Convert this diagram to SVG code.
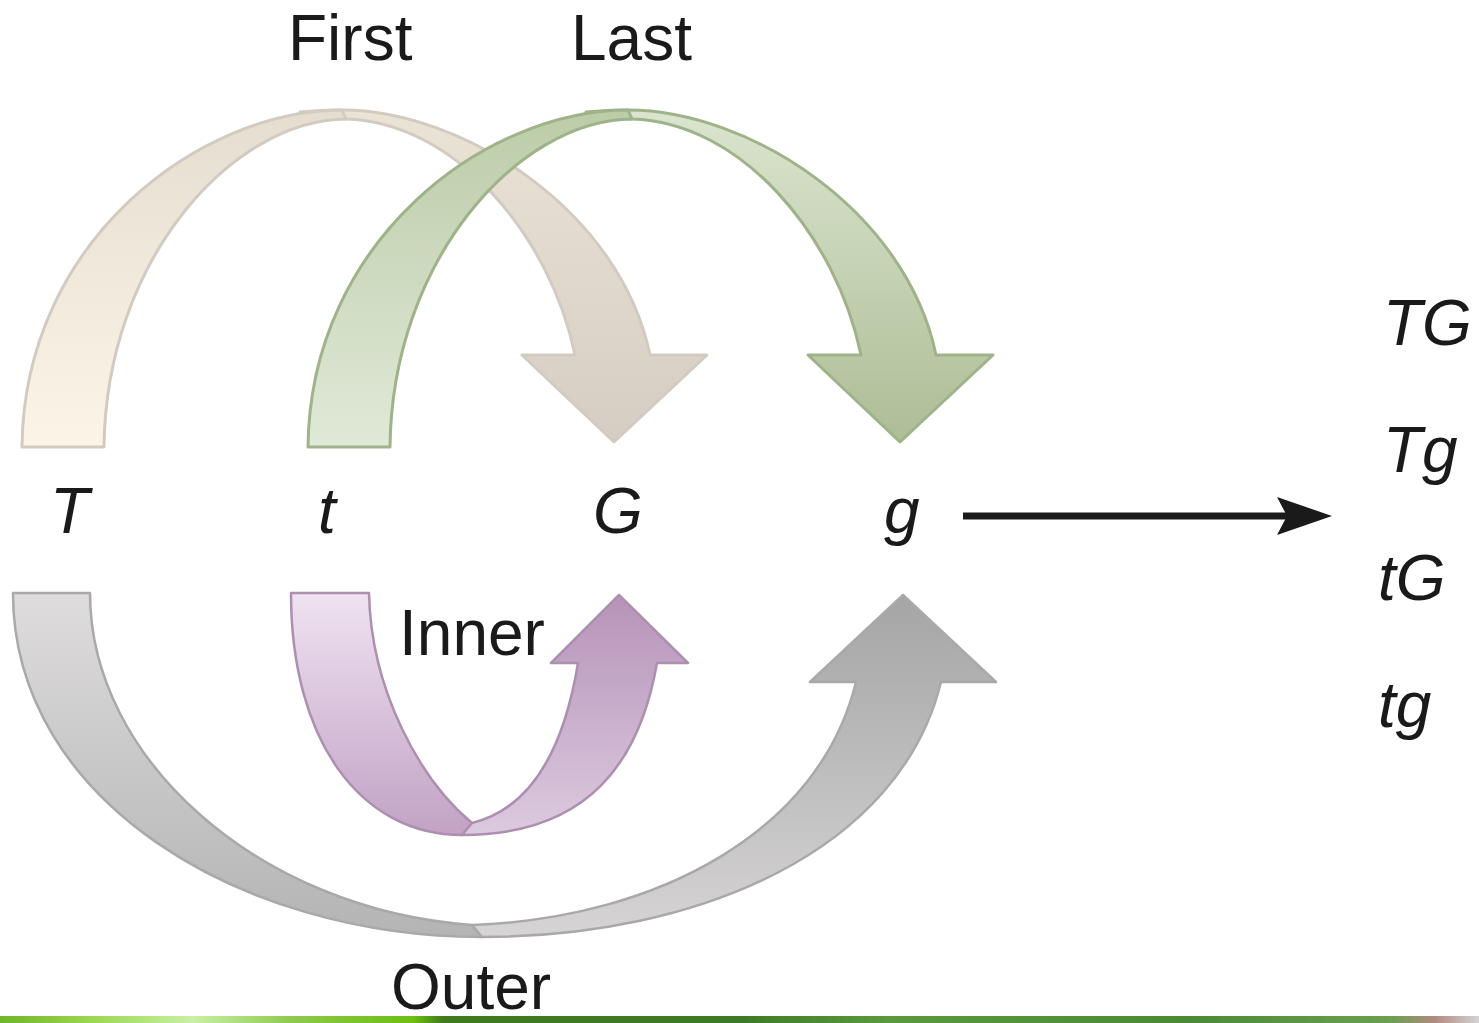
<svg xmlns="http://www.w3.org/2000/svg" width="1479" height="1023" viewBox="0 0 1479 1023">
<defs>
<style>
.lbl{font-family:"Liberation Sans",Arial,sans-serif;font-size:64px;fill:#1a1a1a}
.it{font-family:"Liberation Sans",Arial,sans-serif;font-style:italic;font-size:64px;fill:#1a1a1a}
.bf{stroke:#d3cbc2;stroke-width:3;stroke-linejoin:round}
.gf{stroke:#9fb38a;stroke-width:3;stroke-linejoin:round}
.pf{stroke:#ad8fb0;stroke-width:2.5;stroke-linejoin:round}
.yf{stroke:#a9a9a9;stroke-width:2.5;stroke-linejoin:round}
</style>
<linearGradient id="bL" x1="0" y1="0" x2="0" y2="1"><stop offset="0" stop-color="#e6ddd1"/><stop offset="1" stop-color="#fcf5e7"/></linearGradient>
<linearGradient id="bR" x1="0" y1="0" x2="0" y2="1"><stop offset="0" stop-color="#ece3d7"/><stop offset="1" stop-color="#d5ccc3"/></linearGradient>
<linearGradient id="gL" x1="0" y1="0" x2="0" y2="1"><stop offset="0" stop-color="#bccca8"/><stop offset="1" stop-color="#e0e9d8"/></linearGradient>
<linearGradient id="gR" x1="0" y1="0" x2="0" y2="1"><stop offset="0" stop-color="#dbe5cf"/><stop offset="1" stop-color="#adbd96"/></linearGradient>
<linearGradient id="pL" x1="0" y1="0" x2="0" y2="1"><stop offset="0" stop-color="#efe2f1"/><stop offset="1" stop-color="#c2a2c5"/></linearGradient>
<linearGradient id="pR" x1="0" y1="0" x2="0" y2="1"><stop offset="0" stop-color="#b693b9"/><stop offset="1" stop-color="#dccadf"/></linearGradient>
<linearGradient id="yL" x1="0" y1="0" x2="0" y2="1"><stop offset="0" stop-color="#dedcdc"/><stop offset="1" stop-color="#b4b4b4"/></linearGradient>
<linearGradient id="yR" x1="0" y1="0" x2="0" y2="1"><stop offset="0" stop-color="#a5a5a5"/><stop offset="1" stop-color="#d6d4d4"/></linearGradient>
<linearGradient id="band" x1="0" y1="0" x2="1" y2="0">
<stop offset="0" stop-color="#6fb52a"/><stop offset="0.06" stop-color="#9ad64e"/><stop offset="0.13" stop-color="#c9f0a4"/><stop offset="0.2" stop-color="#8cc84a"/><stop offset="0.28" stop-color="#6bbf10"/><stop offset="0.3" stop-color="#3f7a1c"/><stop offset="0.5" stop-color="#3d7a26"/><stop offset="0.6" stop-color="#5a9a3c"/><stop offset="0.8" stop-color="#4a8a34"/><stop offset="0.94" stop-color="#6aa050"/><stop offset="0.97" stop-color="#b08a80"/><stop offset="1" stop-color="#d4d4d4"/>
</linearGradient>
</defs>
<rect width="1479" height="1023" fill="#ffffff"/>

<g id="connectors">
<g id="arrow-first">
<path class="bf" fill="url(#bR)" d="M300,112 C320,110 330,110 342,110 C462,110 620,210 650,355 L707,355 L614,442 L522,355 L575,355 C550,235 455,122 346,119 C330,118 318,115 300,112 Z"/>
<path class="bf" fill="url(#bL)" d="M22,447 C24,240 200,110 342,110 L346,119 C232,120 106,260 104,447 Z"/>
</g>
<g id="arrow-last">
<path class="gf" fill="url(#gR)" d="M586,112 C606,110 616,110 628,110 C748,110 906,210 936,355 L993,355 L900,442 L808,355 L861,355 C836,235 741,122 632,119 C616,118 604,115 586,112 Z"/>
<path class="gf" fill="url(#gL)" d="M308,447 C310,240 486,110 628,110 L632,119 C518,120 392,260 390,447 Z"/>
</g>
<g id="arrow-outer">
<path class="yf" fill="url(#yL)" d="M13,593 L90,593 C90,760 260,910 472,925 L482,937 C240,937 13,800 13,593 Z"/>
<path class="yf" fill="url(#yR)" d="M482,937 C700,937 900,850 941,682 L996,682 L903,595 L810,682 L856,682 C820,830 660,918 472,925 Z"/>
</g>
<g id="arrow-inner">
<path class="pf" fill="url(#pL)" d="M291,593 L369,593 C371,690 420,780 472,823 L462,835 C360,835 291,740 291,593 Z"/>
<path class="pf" fill="url(#pR)" d="M462,835 C590,835 640,760 657,663 L688,663 L619,595 L551,663 L578,663 C562,760 525,810 472,823 Z"/>
</g>
<g id="arrow-result">
<line x1="963" y1="516" x2="1295" y2="516" stroke="#1a1a1a" stroke-width="7"/>
<path d="M1277,497 L1332,516 L1277,535 L1287,516 Z" fill="#1a1a1a"/>
</g>
</g>

<g id="label-first"><text class="lbl" x="288" y="60">First</text></g>
<g id="label-last"><text class="lbl" x="571" y="60">Last</text></g>
<g id="label-inner"><text class="lbl" x="399" y="655">Inner</text></g>
<g id="label-outer"><text class="lbl" x="391" y="1009">Outer</text></g>

<g id="node-T"><text class="it" x="50" y="533">T</text></g>
<g id="node-t"><text class="it" x="318" y="533">t</text></g>
<g id="node-G"><text class="it" x="593" y="533">G</text></g>
<g id="node-g"><text class="it" x="884" y="533">g</text></g>

<g id="result-TG"><text class="it" x="1383" y="345">TG</text></g>
<g id="result-Tg"><text class="it" x="1383" y="472">Tg</text></g>
<g id="result-tG"><text class="it" x="1378" y="600">tG</text></g>
<g id="result-tg"><text class="it" x="1378" y="727">tg</text></g>

<rect x="0" y="1016" width="1479" height="7" fill="url(#band)"/>
</svg>
